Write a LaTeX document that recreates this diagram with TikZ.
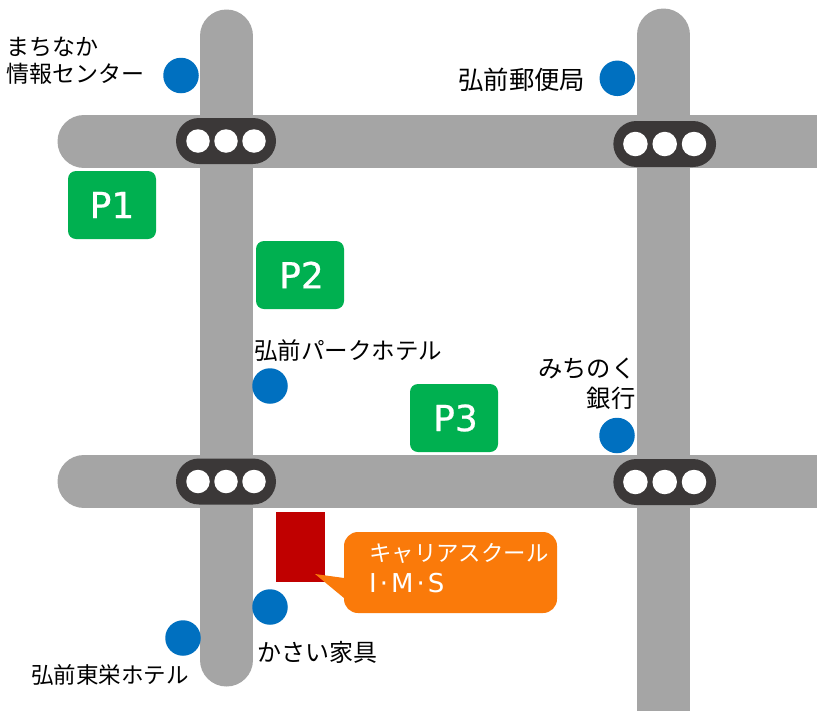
\documentclass[tikz,border=0pt]{standalone}
\usepackage{fontspec}
\setmainfont{Noto Sans CJK JP}
\newfontfamily\latinfont{DejaVu Sans}
\newfontfamily\parkfont[FakeBold=0.6]{DejaVu Sans}
\definecolor{road}{HTML}{A5A5A5}
\definecolor{lamp}{HTML}{3B3838}
\definecolor{spot}{HTML}{0070C0}
\definecolor{park}{HTML}{00B050}
\definecolor{school}{HTML}{C00000}
\definecolor{call}{HTML}{FA7A0A}
\tikzset{x=1pt,y=-1pt,
 roadline/.style={line width=53pt,road,line cap=round},
 lampbox/.style={fill=lamp,rounded corners=23pt,minimum height=46pt,inner sep=0pt,draw=none},
 bulb/.style={circle,fill=white,inner sep=0pt},
 spotdot/.style={circle,fill=spot,minimum size=35.5pt,inner sep=0pt},
 parkbox/.style={fill=park,rounded corners=8pt,minimum width=88pt,minimum height=68pt,inner sep=0pt,text=white,font=\parkfont\fontsize{36}{36}\selectfont},
 lab/.style={inner sep=0pt,align=left,text=black,font=\fontsize{23}{27}\selectfont},
}
% name, centre, box width, bulb spacing, bulb size
\newcommand{\lights}[5]{%
 \node[lampbox,minimum width=#3pt] (L#1) at (#2) {};
 \node[bulb,minimum size=#5pt,xshift=-#4pt] (L#1a) at (L#1) {};
 \node[bulb,minimum size=#5pt] (L#1b) at (L#1) {};
 \node[bulb,minimum size=#5pt,xshift=#4pt] (L#1c) at (L#1) {};
}
\begin{document}
\begin{tikzpicture}
\useasboundingbox (0,0) rectangle (817,710);
\fill[white] (0,0) rectangle (817,710);
\coordinate (v1t) at (226.5,36);
\coordinate (v1b) at (226.5,660);
\coordinate (v2t) at (663.5,35);
\coordinate (v2b) at (663.5,740);
\coordinate (h1l) at (84,141.5);
\coordinate (h1r) at (817,141.5);
\coordinate (h2l) at (84,481.5);
\coordinate (h2r) at (817,481.5);
\draw[roadline] (v1t) -- (v1b);
\draw[roadline] (v2t) -- (v2b);
\draw[roadline] (h1l) -- (h1r);
\draw[roadline] (h2l) -- (h2r);
\lights{a}{226,141}{100}{28}{23.5}
\lights{b}{664.7,144}{102.7}{29.3}{24.5}
\lights{c}{226,481.5}{100}{28}{23.5}
\lights{d}{664.7,482}{102.7}{29.3}{24.5}
\node[spotdot] (s1) at (181,75.5) {};
\node[spotdot] (s2) at (617.3,78.3) {};
\node[spotdot] (s3) at (270,386) {};
\node[spotdot] (s4) at (617,435.5) {};
\node[spotdot] (s5) at (270,607) {};
\node[spotdot] (s6) at (183,638) {};
\node[parkbox] (p1) at (112,205) {P1};
\node[parkbox] (p2) at (300,275) {\kern3pt P2};
\node[parkbox] (p3) at (454,418) {\kern3pt P3};
\node[lab,anchor=west] (t1) at (6,60.5) {まちなか\\情報センター};
\node[lab,anchor=west,font=\fontsize{25.4}{28}\selectfont] (t2) at (458,80) {弘前郵便局};
\node[lab,anchor=west,font=\fontsize{23.5}{27}\selectfont] (t3) at (254,351) {弘前パークホテル};
\node[lab,anchor=east,align=right,font=\fontsize{24.3}{30}\selectfont] (t4) at (635.5,384) {みちのく\\銀行};
\node[lab,anchor=west,font=\fontsize{24}{28}\selectfont] (t5) at (257,652) {かさい家具};
\node[lab,anchor=west,font=\fontsize{22.5}{26}\selectfont] (t6) at (31,675) {弘前東栄ホテル};
\fill[school] (276,512) rectangle (325,582);
\fill[call,rounded corners=14pt] (344,560) -- (344,532) -- (557,532) -- (557,613) -- (344,613) -- (344,590);
\fill[call] (344,578) -- (315,574) -- (344,598) -- cycle;
\node[lab,anchor=west,text=white,font=\fontsize{22.4}{31}\selectfont] (t7) at (369,568) {キャリアスクール\\{\latinfont\fontsize{26}{31}\selectfont I\kern3pt·\kern3pt M\kern3pt·\kern3pt S}};
\end{tikzpicture}
\end{document}
